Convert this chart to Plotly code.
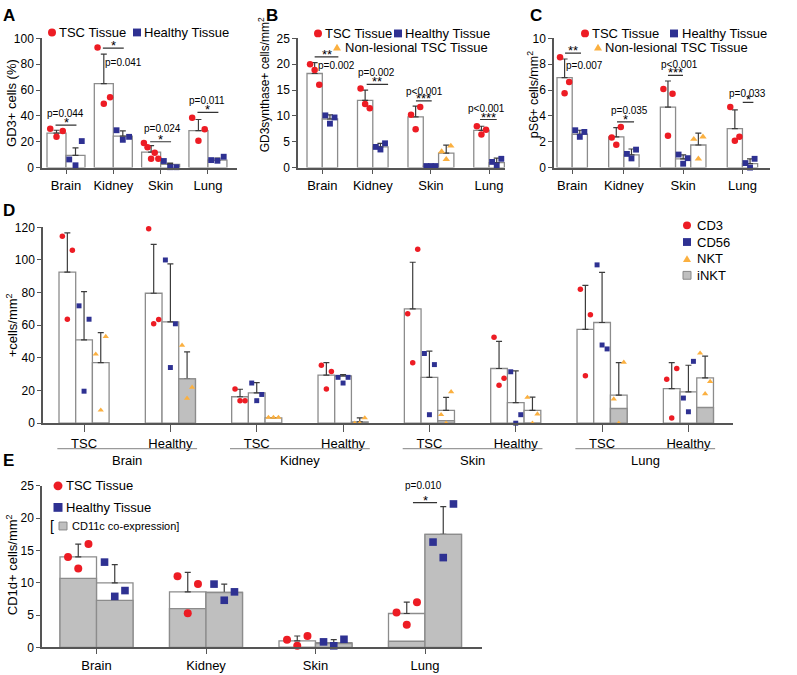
import numpy as np
import plotly.graph_objects as go

W, H = 797, 675
FONT = 'Liberation Sans, Arial, Helvetica, sans-serif'
RED, BLUE, ORANGE = '#ed1c24', '#2e3192', '#fbb040'
GFILL, OUTL, ERRC, AXC = '#bfbfbf', '#8c8c8c', '#3c3c3c', '#555555'

# ======================= DATA =======================
tissues = ['Brain', 'Kidney', 'Skin', 'Lung']

# ---- Panel A: GD3+ cells (%) ----
A_tsc_mean = [26.6, 65.0, 11.9, 28.6]
A_tsc_sd = [2.3, 22.8, 5.1, 8.6]
A_tsc_pts = [[30.1, 23.8, 28.4], [92.9, 49.4, 54.4], [19.0, 15.7, 6.8, 11.4, 6.8], [38.5, 20.8, 29.6]]
A_hea_mean = [9.4, 24.3, 2.5, 5.8]
A_hea_sd = [5.8, 4.1, 1.0, 1.6]
A_hea_pts = [[6.3, 1.8, 20.5], [28.9, 21.5, 23.8], [5.1, 0.3, 0.3], [5.8, 5.3, 8.4]]
A_pvals = ['p=0.044', 'p=0.041', 'p=0.024', 'p=0.011']
A_stars = ['*', '*', '*', '*']

# ---- Panel B: GD3synthase+ cells/mm2 ----
B_tsc_mean = [18.2, 13.0, 9.8, 7.2]
B_tsc_sd = [2.1, 2.0, 2.1, 0.8]
B_tsc_pts = [[20.0, 18.9, 16.0], [15.3, 12.3, 11.5], [10.2, 7.4, 11.7], [8.0, 6.4, 7.3]]
B_hea_mean = [9.4, 4.0, 0.3, 0.95]
B_hea_sd = [0.8, 0.7, 0.0, 0.9]
B_hea_pts = [[10.1, 8.5, 9.7], [4.0, 3.5, 4.7], [0.3, 0.3, 0.3], [1.1, 0.4, 1.7]]
B_nl_mean = [None, None, 2.8, None]
B_nl_sd = [None, None, 1.55, None]
B_nl_pts = [[], [], [3.1, 1.6, 4.2], []]
B_pvals = ['p=0.002', 'p=0.002', 'p<0.001', 'p<0.001']
B_stars = ['**', '**', '***', '***']

# ---- Panel C: pS6+ cells/mm2 ----
C_tsc_mean = [6.96, 2.38, 4.68, 3.01]
C_tsc_sd = [1.44, 0.71, 2.02, 1.45]
C_tsc_pts = [[8.53, 5.75, 6.63], [2.33, 1.77, 3.14], [6.08, 2.46, 5.72], [4.68, 2.08, 2.38]]
C_hea_mean = [2.58, 0.99, 0.68, 0.30]
C_hea_sd = [0.31, 0.45, 0.31, 0.38]
C_hea_pts = [[2.89, 2.38, 2.76], [1.06, 0.71, 1.39], [1.01, 0.30, 0.73], [0.35, 0.0, 0.68]]
C_nl_mean = [None, None, 1.75, None]
C_nl_sd = [None, None, 0.91, None]
C_nl_pts = [[], [], [2.2, 0.68, 2.38], []]
C_pvals = ['p=0.007', 'p=0.035', 'p<0.001', 'p=0.033']
C_stars = ['**', '*', '***', '*']

# ---- Panel D: +cells/mm2 ----
D_groups = ['TSC', 'Healthy'] * 4
D_cd3_mean = [92.6, 79.6, 16.2, 29.5, 70.0, 33.5, 57.5, 21.2]
D_cd3_sd = [24.0, 30.0, 4.6, 7.6, 28.6, 16.6, 26.9, 15.9]
D_cd3_pts = [[114.6, 63.7, 106.0], [119.2, 60.9, 63.5], [21.0, 13.8, 13.8], [35.5, 21.0, 31.7],
             [67.0, 37.1, 106.6], [52.7, 23.2, 27.5], [82.0, 29.1, 66.5], [26.9, 3.2, 33.5]]
D_cd56_mean = [51.1, 62.1, 18.6, 28.9, 28.1, 12.6, 61.7, 19.2]
D_cd56_sd = [29.5, 35.5, 6.2, 0.8, 16.0, 19.5, 30.7, 16.3]
D_cd56_pts = [[71.9, 19.6, 63.7], [100.0, 34.1, 60.9], [24.6, 13.8, 17.6], [28.1, 24.6, 28.1],
              [42.7, 5.2, 35.9], [31.5, 0.0, 5.2], [97.0, 47.9, 45.5], [15.4, 7.0, 37.9]]
D_nkt_mean = [37.1, 27.1, 3.2, 0.8, 7.8, 7.8, 17.2, 27.7]
D_nkt_sd = [18.4, 16.6, 0.0, 2.4, 8.0, 8.2, 19.9, 13.4]
D_nkt_pts = [[42.3, 8.0, 53.1], [47.7, 15.2, 22.0], [3.5, 3.5, 3.5], [0.0, 0.0, 3.2],
             [5.2, 0.0, 19.2], [15.8, 0.0, 5.6], [14.8, 0.0, 37.3], [42.9, 18.0, 25.5]]
D_inkt_mean = [0.0, 27.1, 0.0, 0.0, 1.6, 0.0, 9.0, 9.6]

# ---- Panel E: CD1d+ cells/mm2 ----
E_tsc_mean = [14.0, 8.6, 1.0, 5.25]
E_tsc_sd = [2.0, 3.0, 0.77, 1.75]
E_tsc_cd11c = [10.7, 6.0, 0.0, 0.96]
E_tsc_pts = [[14.0, 12.2, 16.0], [11.0, 5.3, 9.8], [1.2, 0.25, 1.77], [5.4, 3.5, 7.0]]
E_hea_mean = [10.0, 8.5, 0.76, 17.5]
E_hea_sd = [2.8, 1.3, 0.44, 4.3]
E_hea_cd11c = [7.27, 8.5, 0.6, 17.5]
E_hea_pts = [[13.2, 7.9, 8.8], [9.8, 7.3, 8.6], [0.86, 0.25, 1.26], [16.3, 13.9, 22.2]]
E_pvals = [None, None, None, 'p=0.010']
E_stars = [None, None, None, '*']

# ======================= LAYOUT GEOMETRY (pixels) =======================
GEOM = {
    '':  dict(x0=42, x1=237, bar0=47, ppu=19.0, y0=32, y1=164, gap=0.49, yr=[0, 100], dt=20),
    '2': dict(x0=298, x1=505, bar0=307, ppu=15.3, y0=32, y1=164, gap=1.3, yr=[0, 25], dt=5),
    '3': dict(x0=554, x1=770, bar0=557, ppu=15.2, y0=32, y1=164, gap=1.4, yr=[0, 10], dt=2),
    '4': dict(x0=43, x1=733, bar0=59, ppu=16.7, y0=225, y1=425, gap=2.17, yr=[0, 120], dt=20),
    '5': dict(x0=42, x1=482, bar0=60, ppu=36.5, y0=489, y1=654, gap=1.0, yr=[0, 25], dt=5),
}

fig = go.Figure()
shapes, annos = [], []


def PX(x):
    return x / W


def PY(y):
    return 1 - y / H


def grouped_panel(ax, series, spread, msz):
    g = GEOM[ax]
    xa, ya = 'x' + ax, 'y' + ax
    ng = len(series[0]['mean'])
    present = [[i for i, s in enumerate(series) if s['mean'][k] is not None] for k in range(ng)]
    starts, s = [], 0.0
    for k in range(ng):
        starts.append(s)
        s += len(present[k]) + g['gap']
    pos = {}
    for k in range(ng):
        for j, i in enumerate(present[k]):
            pos[(i, k)] = starts[k] + j + 0.5
    for i, se in enumerate(series):
        ks = [k for k in range(ng) if (i, k) in pos]
        fig.add_trace(go.Bar(
            x=[pos[(i, k)] for k in ks], y=[se['mean'][k] for k in ks], width=1.0,
            xaxis=xa, yaxis=ya, marker=dict(color='white', line=dict(color=OUTL, width=1.3)),
            error_y=dict(type='data', symmetric=False, array=[se['sd'][k] for k in ks],
                         arrayminus=[0] * len(ks), color=ERRC, thickness=1.2, width=3),
            showlegend=False, hoverinfo='skip'))
    for i, se in enumerate(series):
        if 'gray' in se:
            ks = [k for k in range(ng) if (i, k) in pos]
            fig.add_trace(go.Bar(
                x=[pos[(i, k)] for k in ks], y=[se['gray'][k] for k in ks], width=1.0,
                xaxis=xa, yaxis=ya, marker=dict(color=GFILL, line=dict(color=OUTL, width=1.3)),
                showlegend=False, hoverinfo='skip'))
    for i, se in enumerate(series):
        xs, ys = [], []
        for k in range(ng):
            if (i, k) in pos:
                p = se['pts'][k]
                n = len(p)
                sp = spread + (0.05 if n > 3 else 0)
                offs = np.linspace(-sp, sp, n) if n > 1 else [0.0]
                xs += [pos[(i, k)] + o for o in offs]
                ys += list(p)
        fig.add_trace(go.Scatter(
            x=xs, y=ys, mode='markers', xaxis=xa, yaxis=ya, cliponaxis=False,
            marker=dict(symbol=se['symbol'], color=se['color'], size=msz * se.get('scale', 1.0),
                        line=dict(width=0)),
            showlegend=False, hoverinfo='skip'))
    ticks = [starts[k] + len(present[k]) / 2 for k in range(ng)]
    return starts, ticks


def axes(ax, tickvals, ticktext, ticklen, fs_x, fs_y=12):
    g = GEOM[ax]
    xr = [(g['x0'] - g['bar0']) / g['ppu'], (g['x1'] - g['bar0']) / g['ppu']]
    common = dict(showline=True, linecolor=AXC, linewidth=1.5, ticks='outside',
                  tickcolor=AXC, tickwidth=1.2, showgrid=False, zeroline=False)
    fig.layout['xaxis' + ax] = dict(domain=[PX(g['x0']), PX(g['x1'])], range=xr, anchor='y' + ax,
                                    tickvals=tickvals, ticktext=ticktext, ticklen=ticklen,
                                    tickfont=dict(size=fs_x, color='black', family=FONT), **common)
    fig.layout['yaxis' + ax] = dict(domain=[PY(g['y1']), PY(g['y0'])], range=g['yr'], dtick=g['dt'],
                                    anchor='x' + ax, ticklen=4,
                                    tickfont=dict(size=fs_y, color='black', family=FONT), **common)


def sig(ax, start, r0, r1, yl, star, ptxt, pr, py, pfs=10):
    xa, ya = 'x' + ax, 'y' + ax
    shapes.append(dict(type='line', xref=xa, yref=ya, x0=start + r0, x1=start + r1, y0=yl, y1=yl,
                       line=dict(color='#333333', width=1.2)))
    annos.append(dict(xref=xa, yref=ya, x=start + (r0 + r1) / 2, y=yl, text=star, showarrow=False,
                      yanchor='bottom', yshift=-7, font=dict(size=13, color='black', family=FONT)))
    annos.append(dict(xref=xa, yref=ya, x=start + pr, y=py, text=ptxt, showarrow=False,
                      yanchor='middle', xanchor='center', font=dict(size=pfs, color='black', family=FONT)))


def txt(x, y, text, size=13, xanchor='left', angle=0, bold=False):
    if bold:
        text = '<b>' + text + '</b>'
    annos.append(dict(xref='paper', yref='paper', x=PX(x), y=PY(y), text=text, showarrow=False,
                      xanchor=xanchor, yanchor='middle', textangle=angle,
                      font=dict(size=size, color='black', family=FONT)))


def circ(cx, cy, d, color):
    shapes.append(dict(type='circle', xref='paper', yref='paper', x0=PX(cx - d / 2), x1=PX(cx + d / 2),
                       y0=PY(cy + d / 2), y1=PY(cy - d / 2), fillcolor=color, line=dict(width=0)))


def sq(cx, cy, s, color, lc=None):
    shapes.append(dict(type='rect', xref='paper', yref='paper', x0=PX(cx - s / 2), x1=PX(cx + s / 2),
                       y0=PY(cy + s / 2), y1=PY(cy - s / 2), fillcolor=color,
                       line=dict(width=1 if lc else 0, color=lc or color)))


def tri(cx, cy, s, color):
    h = s * 0.87
    path = 'M {} {} L {} {} L {} {} Z'.format(PX(cx - s / 2), PY(cy + h / 2), PX(cx + s / 2), PY(cy + h / 2),
                                              PX(cx), PY(cy - h / 2))
    shapes.append(dict(type='path', xref='paper', yref='paper', path=path, fillcolor=color,
                       line=dict(width=0)))


# ======================= PANEL A =======================
sA, tA = grouped_panel('', [
    dict(mean=A_tsc_mean, sd=A_tsc_sd, pts=A_tsc_pts, symbol='circle', color=RED),
    dict(mean=A_hea_mean, sd=A_hea_sd, pts=A_hea_pts, symbol='square', color=BLUE, scale=0.9),
], 0.33, 6.5)
axes('', tA, tissues, 5, 13)
A_sig = [(0.45, 1.55, 32.9, 0.95, 41.8), (0.45, 1.55, 92.4, 1.56, 81.5),
         (0.45, 1.55, 20.0, 1.12, 30.6), (0.45, 1.55, 42.8, 0.95, 52.0)]
for k, (r0, r1, yl, pr, py) in enumerate(A_sig):
    sig('', sA[k], r0, r1, yl, A_stars[k], A_pvals[k], pr, py)

# ======================= PANEL B =======================
sB, tB = grouped_panel('2', [
    dict(mean=B_tsc_mean, sd=B_tsc_sd, pts=B_tsc_pts, symbol='circle', color=RED),
    dict(mean=B_hea_mean, sd=B_hea_sd, pts=B_hea_pts, symbol='square', color=BLUE, scale=0.9),
    dict(mean=B_nl_mean, sd=B_nl_sd, pts=B_nl_pts, symbol='triangle-up', color=ORANGE),
], 0.3, 6.5)
axes('2', tB, tissues, 5, 13)
B_sig = [(0.5, 2.05, 21.4, 1.96, 19.7), (0.6, 2.0, 16.1, 1.21, 18.4),
         (0.52, 1.55, 12.9, 1.05, 14.8), (0.41, 1.5, 9.3, 0.86, 11.4)]
for k, (r0, r1, yl, pr, py) in enumerate(B_sig):
    sig('2', sB[k], r0, r1, yl, B_stars[k], B_pvals[k], pr, py)

# ======================= PANEL C =======================
sC, tC = grouped_panel('3', [
    dict(mean=C_tsc_mean, sd=C_tsc_sd, pts=C_tsc_pts, symbol='circle', color=RED),
    dict(mean=C_hea_mean, sd=C_hea_sd, pts=C_hea_pts, symbol='square', color=BLUE, scale=0.9),
    dict(mean=C_nl_mean, sd=C_nl_sd, pts=C_nl_pts, symbol='triangle-up', color=ORANGE),
], 0.3, 6.5)
axes('3', tC, tissues, 5, 13)
C_sig = [(0.53, 1.58, 8.86, 1.84, 7.9), (0.55, 1.67, 3.54, 1.34, 4.43),
         (0.5, 1.49, 7.14, 1.23, 8.0), (1.02, 1.72, 5.04, 1.3, 5.75)]
for k, (r0, r1, yl, pr, py) in enumerate(C_sig):
    sig('3', sC[k], r0, r1, yl, C_stars[k], C_pvals[k], pr, py)

# ======================= PANEL D =======================
sD, tD = grouped_panel('4', [
    dict(mean=D_cd3_mean, sd=D_cd3_sd, pts=D_cd3_pts, symbol='circle', color=RED),
    dict(mean=D_cd56_mean, sd=D_cd56_sd, pts=D_cd56_pts, symbol='square', color=BLUE, scale=0.9),
    dict(mean=D_nkt_mean, sd=D_nkt_sd, pts=D_nkt_pts, symbol='triangle-up', color=ORANGE,
         gray=D_inkt_mean),
], 0.3, 5.5)
axes('4', tD, D_groups, 7, 13)
for t, name in enumerate(tissues):
    a = sD[2 * t] - 0.1
    b = sD[2 * t + 1] + 3.1
    shapes.append(dict(type='line', xref='x4', yref='paper', x0=a, x1=b, y0=PY(451), y1=PY(451),
                       line=dict(color='#9a9a9a', width=1.3)))
    annos.append(dict(xref='x4', yref='paper', x=(a + b) / 2, y=PY(463), text=name, showarrow=False,
                      yanchor='middle', font=dict(size=13, color='black', family=FONT)))

# ======================= PANEL E =======================
sE, tE = grouped_panel('5', [
    dict(mean=E_tsc_mean, sd=E_tsc_sd, pts=E_tsc_pts, symbol='circle', color=RED, gray=E_tsc_cd11c),
    dict(mean=E_hea_mean, sd=E_hea_sd, pts=E_hea_pts, symbol='square', color=BLUE, gray=E_hea_cd11c,
         scale=0.95),
], 0.28, 8)
axes('5', tE, tissues, 5, 13)
sig('5', sE[3], 0.67, 1.33, 22.4, E_stars[3], E_pvals[3], 0.95, 25.0, 10)

# ======================= LEGENDS / LABELS =======================
circ(52, 26, 8, RED); txt(57, 26, 'TSC Tissue')
sq(137, 26, 8, BLUE); txt(142, 26, 'Healthy Tissue')
circ(318, 27, 8, RED); txt(323, 27, 'TSC Tissue')
sq(398, 27, 8, BLUE); txt(403, 27, 'Healthy Tissue')
tri(337, 41, 8, ORANGE); txt(343, 41, 'Non-lesional TSC Tissue')
circ(585, 27, 8, RED); txt(590, 27, 'TSC Tissue')
sq(674, 27, 8, BLUE); txt(680, 27, 'Healthy Tissue')
tri(598, 41, 8, ORANGE); txt(603, 41, 'Non-lesional TSC Tissue')
circ(687, 223, 8, RED); txt(695, 223, 'CD3')
sq(687, 240, 8, BLUE); txt(695, 240, 'CD56')
tri(687, 257, 8, ORANGE); txt(695, 257, 'NKT')
sq(687, 274, 8, GFILL, '#888888'); txt(695, 274, 'iNKT')
circ(58, 489, 9, RED); txt(64, 489, 'TSC Tissue')
sq(58, 511, 9, BLUE); txt(64, 511, 'Healthy Tissue')
txt(48, 530, '[', 14)
sq(63, 530, 8, GFILL, '#888888')
txt(70, 530, 'CD11c co-expression]', 11)

for L, x, y in [('A', 1, 9), ('B', 264, 9), ('C', 528, 9), ('D', 1, 208), ('E', 1, 463)]:
    txt(x, y, L, 17, bold=True)

txt(12, 98, 'GD3+ cells (%)', 13, 'center', -90)
txt(264, 80, 'GD3synthase+ cells/mm<sup>2</sup>', 12, 'center', -90)
txt(533, 90, 'pS6+ cells/mm<sup>2</sup>', 12.5, 'center', -90)
txt(12, 325, '+cells/mm<sup>2</sup>', 13, 'center', -90)
txt(12, 570, 'CD1d+ cells/mm<sup>2</sup>', 13, 'center', -90)

fig.update_layout(
    width=W, height=H, autosize=False, margin=dict(l=0, r=0, t=0, b=0),
    paper_bgcolor='white', plot_bgcolor='white', barmode='overlay', showlegend=False,
    font=dict(family=FONT, color='black'), shapes=shapes, annotations=annos,
)
fig.write_html('out.html', config={'displayModeBar': False},
               post_script="document.body.style.margin='0';document.body.style.overflow='hidden';")
